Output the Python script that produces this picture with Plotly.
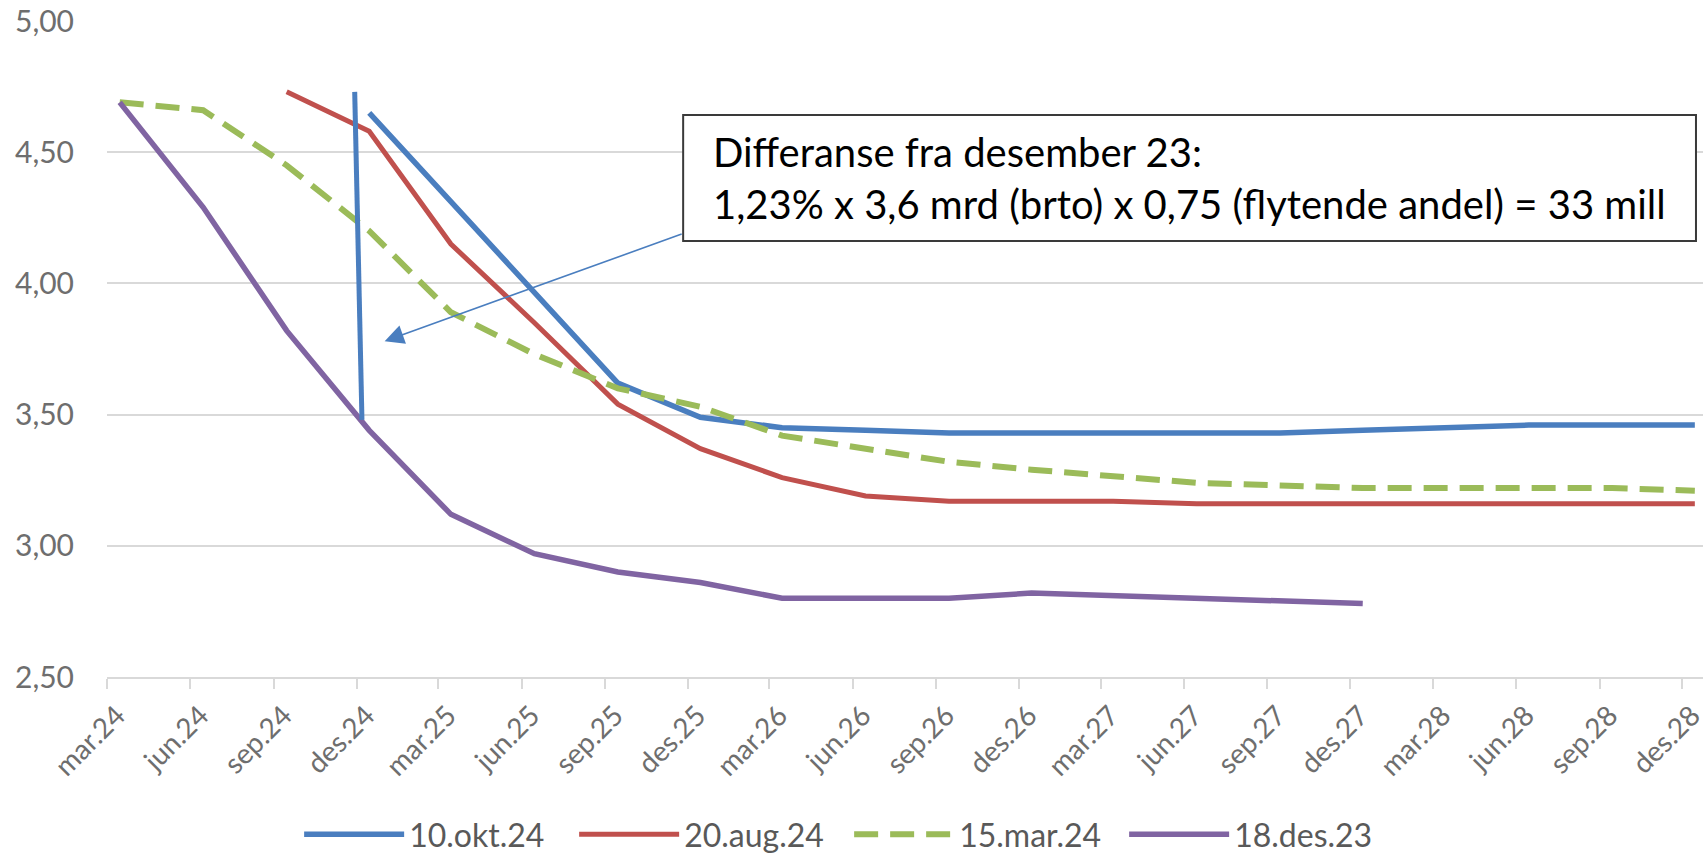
import plotly.graph_objects as go

# ---- data ----
tick_dates = ["2024-03-01", "2024-06-01", "2024-09-01", "2024-12-01",
              "2025-03-01", "2025-06-01", "2025-09-01", "2025-12-01",
              "2026-03-01", "2026-06-01", "2026-09-01", "2026-12-01",
              "2027-03-01", "2027-06-01", "2027-09-01", "2027-12-01",
              "2028-03-01", "2028-06-01", "2028-09-01", "2028-12-01"]
tick_labels = ["mar.24", "jun.24", "sep.24", "des.24",
               "mar.25", "jun.25", "sep.25", "des.25",
               "mar.26", "jun.26", "sep.26", "des.26",
               "mar.27", "jun.27", "sep.27", "des.27",
               "mar.28", "jun.28", "sep.28", "des.28"]

quarters = ["2024-03-15", "2024-06-15", "2024-09-15", "2024-12-15",
            "2025-03-15", "2025-06-15", "2025-09-15", "2025-12-15",
            "2026-03-15", "2026-06-15", "2026-09-15", "2026-12-15",
            "2027-03-15", "2027-06-15", "2027-09-15", "2027-12-15",
            "2028-03-15", "2028-06-15", "2028-09-15", "2028-12-15"]

okt24_x = quarters[3:]
okt24_y = [4.65, 4.31, 3.96, 3.62, 3.49, 3.45, 3.44, 3.43, 3.43, 3.43,
           3.43, 3.43, 3.44, 3.45, 3.46, 3.46, 3.46]

aug24_x = quarters[2:]
aug24_y = [4.73, 4.58, 4.15, 3.85, 3.54, 3.37, 3.26, 3.19, 3.17, 3.17,
           3.17, 3.16, 3.16, 3.16, 3.16, 3.16, 3.16, 3.16]

mar24_x = quarters
mar24_y = [4.69, 4.66, 4.45, 4.20, 3.89, 3.73, 3.60, 3.53, 3.42, 3.37,
           3.32, 3.29, 3.265, 3.24, 3.23, 3.22, 3.22, 3.22, 3.22, 3.21]

des23_x = quarters[:16]
des23_y = [4.69, 4.29, 3.82, 3.44, 3.12, 2.97, 2.90, 2.86, 2.80, 2.80,
           2.80, 2.82, 2.81, 2.80, 2.79, 2.78]

series_names = ["10.okt.24", "20.aug.24", "15.mar.24", "18.des.23"]

note_text = ("Differanse fra desember 23:<br>"
             "1,23% x 3,6 mrd (brto) x 0,75 (flytende andel) = 33 mill")

BLUE = "#4a7ebf"
RED = "#c0504d"
GREEN = "#9bbb59"
PURPLE = "#8064a2"
GREY_TXT = "#6e6e6e"
GRID = "#d9d9d9"
FONT = "Lato, 'Open Sans', sans-serif"

fig = go.Figure()
fig.add_trace(go.Scatter(x=okt24_x, y=okt24_y, mode="lines", name=series_names[0],
                         line=dict(color=BLUE, width=5.5)))
fig.add_trace(go.Scatter(x=aug24_x, y=aug24_y, mode="lines", name=series_names[1],
                         line=dict(color=RED, width=5)))
fig.add_trace(go.Scatter(x=mar24_x, y=mar24_y, mode="lines", name=series_names[2],
                         line=dict(color=GREEN, width=6, dash="24px,12px")))
fig.add_trace(go.Scatter(x=des23_x, y=des23_y, mode="lines", name=series_names[3],
                         line=dict(color=PURPLE, width=5.5)))

# hand-drawn vertical marker line
fig.add_shape(type="line", xref="x", yref="y",
              x0="2024-11-29", y0=4.73, x1="2024-12-07", y1=3.48,
              line=dict(color=BLUE, width=5))

# text box frame
fig.add_shape(type="rect", xref="paper", yref="paper",
              x0=0.361, x1=0.9956, y0=0.6646, y1=0.8567,
              line=dict(color="#3a3a3a", width=2), fillcolor="white",
              layer="above")

# arrow from text box
fig.add_annotation(xref="x", yref="y", axref="x", ayref="y",
                   x="2025-01-01", y=3.78, ax="2025-11-26", ay=4.19,
                   text="", showarrow=True, arrowhead=2, arrowsize=2.4,
                   arrowwidth=1.6, arrowcolor=BLUE)

# text
fig.add_annotation(xref="paper", yref="paper", x=0.3784, y=0.7607,
                   xanchor="left", yanchor="middle", text=note_text,
                   showarrow=False, align="left",
                   font=dict(family=FONT, size=40, color="#000000"))

fig.update_layout(
    width=1703, height=858,
    margin=dict(l=107, r=0, t=21, b=181, autoexpand=False),
    paper_bgcolor="white", plot_bgcolor="white",
    separators=", ",
    font=dict(family=FONT, color=GREY_TXT),
    showlegend=True,
    legend=dict(orientation="h", x=0.465, xanchor="center", y=-0.240,
                yanchor="middle", font=dict(size=32, color="#595959"),
                entrywidth=160, entrywidthmode="pixels", itemwidth=100,
                bgcolor="rgba(0,0,0,0)"),
    xaxis=dict(type="date", range=["2024-03-01", "2028-12-24"],
               tickmode="array", tickvals=tick_dates, ticktext=tick_labels,
               tickangle=-45, tickfont=dict(size=28, color=GREY_TXT),
               ticklabelshift=10, ticklabelstandoff=-1,
               ticklabeloverflow="allow",
               showgrid=False, showline=True, linecolor=GRID, linewidth=2,
               ticks="outside", ticklen=10, tickwidth=2, tickcolor=GRID,
               zeroline=False, automargin=False),
    yaxis=dict(range=[2.5, 5.0], tickvals=[2.5, 3.0, 3.5, 4.0, 4.5, 5.0],
               tickformat=".2f", tickfont=dict(size=30, color=GREY_TXT),
               showgrid=True, gridcolor=GRID, gridwidth=2,
               zeroline=False, showline=False, ticks="",
               ticklabelstandoff=32, automargin=False),
)

fig.write_html("out.html", config={"displayModeBar": False},
               post_script="document.body.style.margin='0';"
                           "document.body.style.overflow='hidden';")
